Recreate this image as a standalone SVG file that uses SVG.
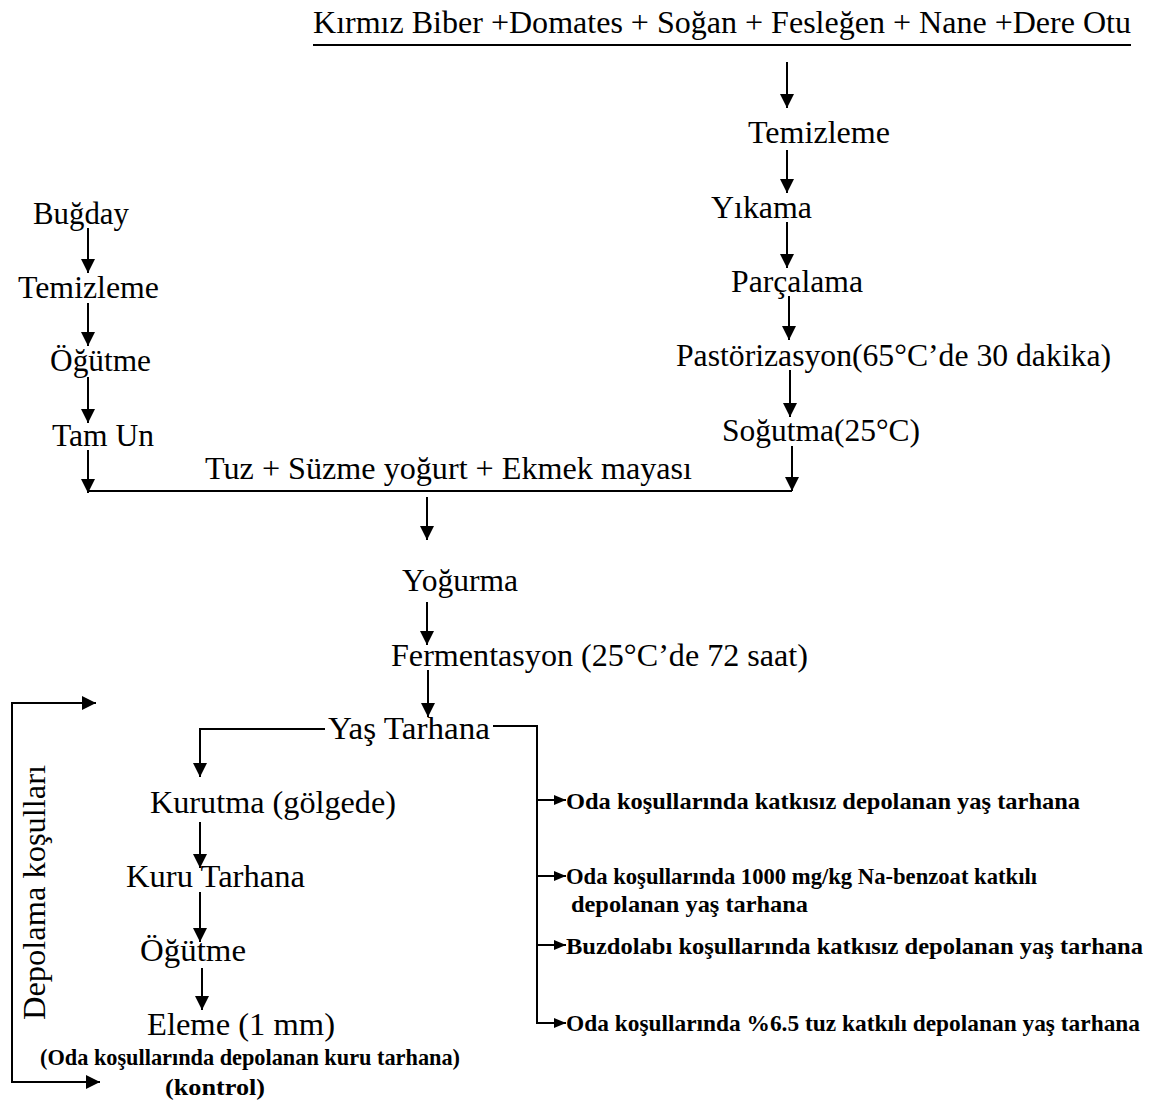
<svg xmlns="http://www.w3.org/2000/svg" width="1156" height="1104" viewBox="0 0 1156 1104">
<style>
text{font-family:"Liberation Serif","Times New Roman",serif;fill:#000}
.m{font-size:31px}
.s{font-size:23px;font-weight:bold}
.c{stroke:#000;stroke-width:2;fill:none}
</style>
<defs>
<marker id="a" markerUnits="userSpaceOnUse" markerWidth="14" markerHeight="14" refX="14" refY="7" orient="auto"><path d="M0,0 L14,7 L0,14 z" fill="#000"/></marker>
<marker id="b" markerUnits="userSpaceOnUse" markerWidth="12" markerHeight="12" refX="12" refY="6" orient="auto"><path d="M0,1 L12,6 L0,11 z" fill="#000"/></marker>
</defs>
<rect width="1156" height="1104" fill="#fff"/>
<g id="connectors">
<line class="c" x1="313" y1="45" x2="1131" y2="45"/>
<line class="c" x1="787" y1="62" x2="787" y2="108" marker-end="url(#a)"/>
<line class="c" x1="787" y1="150" x2="787" y2="193" marker-end="url(#a)"/>
<line class="c" x1="787" y1="222" x2="787" y2="268" marker-end="url(#a)"/>
<line class="c" x1="789" y1="296" x2="789" y2="340" marker-end="url(#a)"/>
<line class="c" x1="790" y1="370" x2="790" y2="417" marker-end="url(#a)"/>
<line class="c" x1="792" y1="446" x2="792" y2="491" marker-end="url(#a)"/>
<line class="c" x1="88" y1="228" x2="88" y2="273" marker-end="url(#a)"/>
<line class="c" x1="88" y1="303" x2="88" y2="346" marker-end="url(#a)"/>
<line class="c" x1="88" y1="377" x2="88" y2="423" marker-end="url(#a)"/>
<line class="c" x1="88" y1="450" x2="88" y2="493" marker-end="url(#a)"/>
<line class="c" x1="88" y1="491" x2="792" y2="491"/>
<line class="c" x1="427" y1="497" x2="427" y2="540" marker-end="url(#a)"/>
<line class="c" x1="427" y1="602" x2="427" y2="645" marker-end="url(#a)"/>
<line class="c" x1="428" y1="670" x2="428" y2="717" marker-end="url(#a)"/>
<polyline class="c" points="325,729 200,729 200,777" marker-end="url(#a)"/>
<polyline class="c" points="493,726 537,726 537,1024"/>
<line class="c" x1="537" y1="800" x2="566" y2="800" marker-end="url(#b)"/>
<line class="c" x1="537" y1="876" x2="566" y2="876" marker-end="url(#b)"/>
<line class="c" x1="537" y1="945" x2="566" y2="945" marker-end="url(#b)"/>
<line class="c" x1="537" y1="1023" x2="566" y2="1023" marker-end="url(#b)"/>
<line class="c" x1="200" y1="822" x2="200" y2="868" marker-end="url(#a)"/>
<line class="c" x1="200" y1="892" x2="200" y2="942" marker-end="url(#a)"/>
<line class="c" x1="202" y1="968" x2="202" y2="1010" marker-end="url(#a)"/>
<polyline class="c" points="95,703 12,703 12,1082 100,1082" marker-end="url(#a)"/>
<line class="c" x1="12" y1="703" x2="96" y2="703" marker-end="url(#a)"/>
</g>
<g id="title"><text class="m" x="313" y="33" font-size="34" textLength="818" lengthAdjust="spacingAndGlyphs">Kırmız Biber +Domates + Soğan + Fesleğen + Nane +Dere Otu</text></g>
<g id="n-temizleme-r"><text class="m" x="748" y="143" textLength="142" lengthAdjust="spacingAndGlyphs">Temizleme</text></g>
<g id="n-yikama"><text class="m" x="711" y="218" textLength="101" lengthAdjust="spacingAndGlyphs">Yıkama</text></g>
<g id="n-parcalama"><text class="m" x="731" y="292" textLength="132" lengthAdjust="spacingAndGlyphs">Parçalama</text></g>
<g id="n-pastorizasyon"><text class="m" x="676" y="366" textLength="435" lengthAdjust="spacingAndGlyphs">Pastörizasyon(65°C’de 30 dakika)</text></g>
<g id="n-sogutma"><text class="m" x="722" y="441" textLength="198" lengthAdjust="spacingAndGlyphs">Soğutma(25°C)</text></g>
<g id="n-bugday"><text class="m" x="33" y="224" textLength="96" lengthAdjust="spacingAndGlyphs">Buğday</text></g>
<g id="n-temizleme-l"><text class="m" x="18" y="298" textLength="141" lengthAdjust="spacingAndGlyphs">Temizleme</text></g>
<g id="n-ogutme-l"><text class="m" x="50" y="371" textLength="101" lengthAdjust="spacingAndGlyphs">Öğütme</text></g>
<g id="n-tamun"><text class="m" x="52" y="446" textLength="102" lengthAdjust="spacingAndGlyphs">Tam Un</text></g>
<g id="n-tuz"><text class="m" x="205" y="479" textLength="487" lengthAdjust="spacingAndGlyphs">Tuz + Süzme yoğurt + Ekmek mayası</text></g>
<g id="n-yogurma"><text class="m" x="402" y="591" textLength="116" lengthAdjust="spacingAndGlyphs">Yoğurma</text></g>
<g id="n-fermentasyon"><text class="m" x="391" y="666" textLength="417" lengthAdjust="spacingAndGlyphs">Fermentasyon (25°C’de 72 saat)</text></g>
<g id="n-yastarhana"><text class="m" x="328" y="739" textLength="162" lengthAdjust="spacingAndGlyphs">Yaş Tarhana</text></g>
<g id="n-kurutma"><text class="m" x="150" y="813" textLength="246" lengthAdjust="spacingAndGlyphs">Kurutma (gölgede)</text></g>
<g id="n-kurutarhana"><text class="m" x="126" y="887" textLength="179" lengthAdjust="spacingAndGlyphs">Kuru Tarhana</text></g>
<g id="n-ogutme-2"><text class="m" x="140" y="961" textLength="106" lengthAdjust="spacingAndGlyphs">Öğütme</text></g>
<g id="n-eleme"><text class="m" x="147" y="1035" textLength="188" lengthAdjust="spacingAndGlyphs">Eleme (1 mm)</text></g>
<g id="n-control"><text class="s" x="40" y="1065" textLength="420" lengthAdjust="spacingAndGlyphs">(Oda koşullarında depolanan kuru tarhana)</text><text class="s" x="165" y="1095" textLength="100" lengthAdjust="spacingAndGlyphs">(kontrol)</text></g>
<g id="n-depolama"><text class="m" transform="translate(45,1020) rotate(-90)" x="0" y="0" textLength="255" lengthAdjust="spacingAndGlyphs">Depolama koşulları</text></g>
<g id="n-b1"><text class="s" x="566" y="809" textLength="514" lengthAdjust="spacingAndGlyphs">Oda koşullarında katkısız depolanan yaş tarhana</text></g>
<g id="n-b2"><text class="s" x="566" y="884" textLength="471" lengthAdjust="spacingAndGlyphs">Oda koşullarında 1000 mg/kg Na-benzoat katkılı</text><text class="s" x="571" y="912" textLength="237" lengthAdjust="spacingAndGlyphs">depolanan yaş tarhana</text></g>
<g id="n-b3"><text class="s" x="566" y="954" textLength="577" lengthAdjust="spacingAndGlyphs">Buzdolabı koşullarında katkısız depolanan yaş tarhana</text></g>
<g id="n-b4"><text class="s" x="566" y="1031" textLength="574" lengthAdjust="spacingAndGlyphs">Oda koşullarında %6.5 tuz katkılı depolanan yaş  tarhana</text></g>
</svg>
